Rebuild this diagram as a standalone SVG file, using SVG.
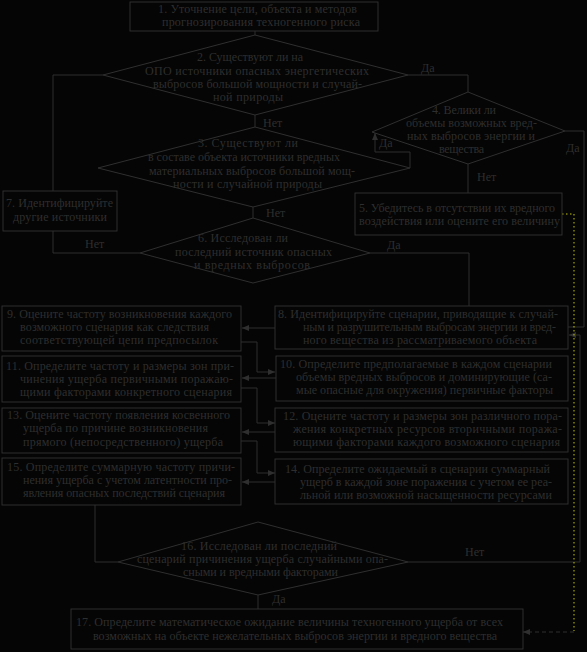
<svg xmlns="http://www.w3.org/2000/svg" width="587" height="652" viewBox="0 0 587 652">
<style>
.bg{fill:#050505}
.n rect,.n polygon{fill:none;stroke:#2f2f2f;stroke-width:1}
text{font-family:"Liberation Serif","Times New Roman",serif;font-size:12px;fill:#2e2e2e}
.c path{fill:none;stroke:#2f2f2f;stroke-width:1}
</style>
<defs>
<marker id="ah" markerWidth="8" markerHeight="8" refX="7" refY="4" orient="auto" markerUnits="userSpaceOnUse">
<path d="M0,1 L7,4 L0,7 Z" fill="#2f2f2f"/>
</marker>
</defs>
<rect class="bg" x="0" y="0" width="587" height="652"/>

<g class="c" id="connectors">
<path d="M255,31 V35"/>
<path d="M255,115 V127"/>
<path d="M408,75 H468 V92"/>
<path d="M410,168 V152 H375 V133" marker-end="url(#ah)"/>
<path d="M468,164 V193"/>
<path d="M565,131 H584 V327 H568"/>
<path d="M253,207 V218"/>
<path d="M140,253 H53 V231"/>
<path d="M53,191 V75 H103"/>
<path d="M370,253 H469 V306"/>
<path d="M275,328 H242" marker-end="url(#ah)"/>
<path d="M241,342 H257 V372 H275" marker-end="url(#ah)"/>
<path d="M276,378 H242" marker-end="url(#ah)"/>
<path d="M241,388 H257 V423 H275" marker-end="url(#ah)"/>
<path d="M275,432 H242" marker-end="url(#ah)"/>
<path d="M241,441 H257 V473 H275" marker-end="url(#ah)"/>
<path d="M275,482 H242" marker-end="url(#ah)"/>
<path d="M95,505 V562 H118"/>
<path d="M408,562 H580 V335 H569" marker-end="url(#ah)"/>
<path d="M258,595 V609"/>
<path d="M562,214 H574 V631" style="stroke:#c8c800;stroke-dasharray:1.5 2.5"/>
<path d="M574,632 H523" style="stroke-dasharray:4 3" marker-end="url(#ah)"/>
<text x="421" y="72">Да</text>
<text x="263" y="127">Нет</text>
<text x="379" y="147">Да</text>
<text x="566" y="152">Да</text>
<text x="477" y="181">Нет</text>
<text x="266" y="217">Нет</text>
<text x="85" y="248">Нет</text>
<text x="387" y="249">Да</text>
<text x="465" y="556">Нет</text>
<text x="272" y="603">Да</text>
</g>

<g class="n" id="n1">
<rect x="130" y="2" width="248" height="29"/>
<text x="158" y="13" textLength="199" lengthAdjust="spacing">1. Уточнение цели, объекта  и методов</text>
<text x="162" y="26" textLength="198" lengthAdjust="spacing">прогнозирования техногенного риска</text>
</g>

<g class="n" id="n2">
<polygon points="255,35 408,75 255,115 103,75"/>
<text x="197" y="61" textLength="106" lengthAdjust="spacing">2. Существуют ли на</text>
<text x="145" y="75" textLength="224" lengthAdjust="spacing">ОПО источники опасных энергетических</text>
<text x="153" y="88" textLength="209" lengthAdjust="spacing">выбросов большой мощности и случай-</text>
<text x="213" y="101" textLength="70" lengthAdjust="spacing">ной природы</text>
</g>

<g class="n" id="n3">
<polygon points="255,127 410,168 253,207 98,168"/>
<text x="198" y="147" textLength="100" lengthAdjust="spacing">3.    Существуют ли</text>
<text x="148" y="161" textLength="192" lengthAdjust="spacing">в составе объекта источники вредных</text>
<text x="149" y="175" textLength="206" lengthAdjust="spacing">материальных выбросов большой мощ-</text>
<text x="173" y="188" textLength="149" lengthAdjust="spacing">ности и случайной природы</text>
</g>

<g class="n" id="n4">
<polygon points="468,92 565,131 468,164 372,132"/>
<text x="432" y="114" textLength="64" lengthAdjust="spacing">4. Велики ли</text>
<text x="406" y="127" textLength="131" lengthAdjust="spacing">объемы возможных вред-</text>
<text x="407" y="140" textLength="128" lengthAdjust="spacing">ных выбросов энергии и</text>
<text x="439" y="153" textLength="45" lengthAdjust="spacing">вещества</text>
</g>

<g class="n" id="n5">
<rect x="355" y="193" width="207" height="42"/>
<text x="359" y="212" textLength="196" lengthAdjust="spacing">5. Убедитесь в отсутствии их  вредного</text>
<text x="359" y="225" textLength="201" lengthAdjust="spacing">воздействия или оцените его величину</text>
</g>

<g class="n" id="n6">
<polygon points="253,218 370,253 253,283 140,253"/>
<text x="198" y="242" textLength="90" lengthAdjust="spacing">6. Исследован ли</text>
<text x="175" y="256" textLength="157" lengthAdjust="spacing">последний источник опасных</text>
<text x="194" y="269" textLength="116" lengthAdjust="spacing">и вредных  выбросов</text>
</g>

<g class="n" id="n7">
<rect x="3" y="191" width="114" height="40"/>
<text x="6" y="207" textLength="107" lengthAdjust="spacing">7. Идентифицируйте</text>
<text x="13" y="221" textLength="94" lengthAdjust="spacing">другие источники</text>
</g>

<g class="n" id="n8">
<rect x="275" y="306" width="293" height="43"/>
<text x="278" y="318" textLength="280" lengthAdjust="spacing">8. Идентифицируйте сценарии, приводящие к случай-</text>
<text x="303" y="331" textLength="253" lengthAdjust="spacing">ным  и разрушительным выбросам энергии и вред-</text>
<text x="303" y="344" textLength="234" lengthAdjust="spacing">ного вещества  из рассматриваемого объекта</text>
</g>

<g class="n" id="n9">
<rect x="2" y="306" width="239" height="45"/>
<text x="7" y="318" textLength="225" lengthAdjust="spacing">9. Оцените частоту возникновения каждого</text>
<text x="20" y="331" textLength="189" lengthAdjust="spacing">возможного сценария как следствия</text>
<text x="20" y="344" textLength="198" lengthAdjust="spacing">соответствующей  цепи  предпосылок</text>
</g>

<g class="n" id="n10">
<rect x="276" y="356" width="292" height="45"/>
<text x="280" y="368" textLength="272" lengthAdjust="spacing">10. Определите предполагаемые в каждом сценарии</text>
<text x="296" y="381" textLength="256" lengthAdjust="spacing">объемы вредных  выбросов и доминирующие (са-</text>
<text x="296" y="394" textLength="257" lengthAdjust="spacing">мые опасные для окружения) первичные факторы</text>
</g>

<g class="n" id="n11">
<rect x="2" y="356" width="239" height="46"/>
<text x="6" y="370" textLength="228" lengthAdjust="spacing">11. Определите  частоту и размеры зон при-</text>
<text x="20" y="383" textLength="213" lengthAdjust="spacing">чинения  ущерба первичными поражаю-</text>
<text x="20" y="396" textLength="212" lengthAdjust="spacing">щими факторами конкретного сценария</text>
</g>

<g class="n" id="n12">
<rect x="275" y="408" width="293" height="44"/>
<text x="283" y="420" textLength="279" lengthAdjust="spacing">12. Оцените частоту и размеры зон различного  пора-</text>
<text x="293" y="433" textLength="269" lengthAdjust="spacing">жения  конкретных ресурсов вторичными поража-</text>
<text x="293" y="446" textLength="267" lengthAdjust="spacing">ющими факторами каждого возможного  сценария</text>
</g>

<g class="n" id="n13">
<rect x="2" y="408" width="239" height="45"/>
<text x="7" y="419" textLength="223" lengthAdjust="spacing">13. Оцените частоту появления косвенного</text>
<text x="23" y="432" textLength="185" lengthAdjust="spacing">ущерба по причине возникновения</text>
<text x="23" y="446" textLength="200" lengthAdjust="spacing">прямого (непосредственного) ущерба</text>
</g>

<g class="n" id="n14">
<rect x="275" y="459" width="293" height="45"/>
<text x="285" y="473" textLength="265" lengthAdjust="spacing">14. Определите ожидаемый в сценарии суммарный</text>
<text x="300" y="486" textLength="252" lengthAdjust="spacing">ущерб  в каждой зоне поражения с учетом ее реа-</text>
<text x="300" y="499" textLength="252" lengthAdjust="spacing">льной или возможной насыщенности ресурсами</text>
</g>

<g class="n" id="n15">
<rect x="2" y="458" width="239" height="47"/>
<text x="7" y="471" textLength="228" lengthAdjust="spacing">15. Определите суммарную частоту причи-</text>
<text x="23" y="484" textLength="209" lengthAdjust="spacing">нения ущерба с учетом латентности про-</text>
<text x="23" y="497" textLength="202" lengthAdjust="spacing">явления опасных  последствий сценария</text>
</g>

<g class="n" id="n16">
<polygon points="258,522 408,562 258,595 118,562"/>
<text x="181" y="550" textLength="156" lengthAdjust="spacing">16. Исследован ли последний</text>
<text x="137" y="563" textLength="251" lengthAdjust="spacing">сценарий причинения ущерба случайными опа-</text>
<text x="183" y="576" textLength="155" lengthAdjust="spacing">сными и вредными факторами</text>
</g>

<g class="n" id="n17">
<rect x="71" y="609" width="452" height="40"/>
<text x="76" y="626" textLength="427" lengthAdjust="spacing">17. Определите математическое ожидание величины техногенного ущерба от всех</text>
<text x="93" y="640" textLength="404" lengthAdjust="spacing">возможных  на объекте нежелательных выбросов энергии и вредного  вещества</text>
</g>
</svg>
